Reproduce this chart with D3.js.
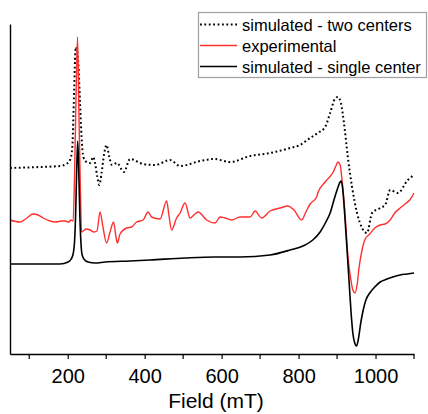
<!DOCTYPE html>
<html>
<head>
<meta charset="utf-8">
<title>EPR spectra</title>
<script src="https://d3js.org/d3.v7.min.js"></script>
<style>
    body { margin: 0; background: #fff; }
    svg { display: block; font-family: "Liberation Sans", Arial, sans-serif; }
</style>
</head>
<body>
<div id="chart"></div>
<script>

// field (mT) and intensity (a.u.)
var twoField = [50, 128, 180, 196, 206, 212, 214.5, 217, 219, 221.5, 224, 227.5, 232, 236, 240.5, 249, 258, 266.5, 271, 277, 282, 288, 295, 301, 308, 315, 328, 346, 362, 396, 427, 466, 492, 544, 580, 622, 674, 726, 778, 804, 830, 850, 869, 882, 895, 902, 910, 918, 928, 939, 952, 965, 978, 991, 1012, 1025, 1038, 1058, 1084, 1100];
var twoInt = [0.96, 0.97, 0.98, 1.00, 1.04, 1.17, 1.44, 1.77, 2.04, 2.17, 2.14, 2.01, 1.61, 1.27, 1.07, 1.02, 1.01, 1.07, 1.01, 0.87, 0.79, 0.91, 1.11, 1.19, 1.07, 0.99, 1.01, 0.92, 1.05, 1.00, 0.99, 1.04, 0.98, 1.03, 1.05, 1.02, 1.08, 1.11, 1.16, 1.19, 1.26, 1.31, 1.37, 1.51, 1.655, 1.67, 1.61, 1.41, 1.07, 0.77, 0.51, 0.36, 0.31, 0.51, 0.56, 0.59, 0.74, 0.71, 0.84, 0.89];

var expField = [50, 76, 94, 110, 123, 136, 154, 167, 185, 193, 203, 208, 214, 217.5, 221.5, 225.5, 229, 233, 236, 240, 248, 258, 268, 276, 284, 292, 301, 310, 319, 326, 329, 336, 353, 366, 379, 396, 409, 418, 440, 457, 463, 470, 483, 492, 505, 518, 528, 539, 561, 583, 596, 609, 626, 648, 674, 687, 704, 726, 752, 772, 788, 808, 819, 830, 847, 850, 869, 890, 897, 902, 908, 913, 921, 928, 936, 941, 947, 952, 957, 965, 972, 985, 998, 1012, 1025, 1038, 1050, 1064, 1077, 1089, 1100];
var expInt = [0.44, 0.42, 0.46, 0.50, 0.49, 0.46, 0.43, 0.42, 0.43, 0.43, 0.42, 0.44, 0.43, 0.84, 1.64, 2.27, 1.54, 0.74, 0.32, 0.33, 0.35, 0.34, 0.32, 0.33, 0.52, 0.36, 0.21, 0.32, 0.42, 0.26, 0.21, 0.30, 0.36, 0.37, 0.42, 0.44, 0.52, 0.47, 0.45, 0.63, 0.49, 0.34, 0.46, 0.51, 0.61, 0.46, 0.49, 0.52, 0.44, 0.41, 0.47, 0.46, 0.44, 0.47, 0.47, 0.53, 0.46, 0.53, 0.56, 0.58, 0.54, 0.44, 0.52, 0.60, 0.67, 0.71, 0.82, 0.92, 0.98, 1.02, 0.99, 0.84, 0.49, 0.09, -0.16, -0.26, -0.29, -0.21, -0.04, 0.14, 0.24, 0.30, 0.36, 0.39, 0.40, 0.44, 0.51, 0.56, 0.60, 0.64, 0.71];

var oneField = [50, 180, 201, 209, 214, 218, 220.5, 223, 226, 229, 231.5, 234, 237, 242, 253, 271, 297, 362, 414, 505, 583, 648, 726, 778, 817, 837, 856, 871, 882, 892, 900, 908, 911, 915, 920, 926, 931, 936, 941, 946, 951, 955, 962, 968, 975, 985, 998, 1012, 1030, 1045, 1064, 1082, 1100];
var oneInt = [0.00, 0.00, 0.02, 0.05, 0.10, 0.24, 0.49, 0.89, 1.23, 0.89, 0.49, 0.24, 0.10, 0.05, 0.02, 0.01, 0.02, 0.03, 0.04, 0.06, 0.07, 0.07, 0.09, 0.14, 0.19, 0.24, 0.32, 0.42, 0.51, 0.64, 0.74, 0.82, 0.83, 0.74, 0.49, 0.14, -0.16, -0.46, -0.69, -0.79, -0.82, -0.76, -0.58, -0.46, -0.36, -0.29, -0.23, -0.18, -0.15, -0.13, -0.11, -0.10, -0.09];

var majorTicks = [200, 400, 600, 800, 1000];
var minorTicks = [100, 300, 500, 700, 900, 1100];
var legendLabels = ["simulated - two centers", "experimental", "simulated - single center"];

var W = 428, H = 414;
var margin = { top: 24, right: 14, bottom: 60, left: 10 };

var svg = d3.select("#chart").append("svg")
    .attr("width", W)
    .attr("height", H);

var x = d3.scaleLinear().domain([50, 1100]).range([margin.left, W - margin.right]);
var y = d3.scaleLinear().domain([-0.9, 2.4]).range([H - margin.bottom, margin.top]);

function zip(xs, ys) {
    return xs.map(function (d, i) { return [d, ys[i]]; });
}

var line = d3.line()
    .x(function (d) { return x(d[0]); })
    .y(function (d) { return y(d[1]); })
    .curve(d3.curveMonotoneX);

// traces
var series = [
    { data: zip(twoField, twoInt), color: "#000", width: 2, dash: "1.8,2.6" },
    { data: zip(expField, expInt), color: "#ff3030", width: 1.4, dash: null },
    { data: zip(oneField, oneInt), color: "#000", width: 1.6, dash: null }
];

series.forEach(function (s) {
    svg.append("path")
        .datum(s.data)
        .attr("fill", "none")
        .attr("stroke", s.color)
        .attr("stroke-width", s.width)
        .attr("stroke-dasharray", s.dash)
        .attr("stroke-linejoin", "round")
        .attr("d", line);
});

// bottom axis: major ticks with labels, minor ticks without
var xAxis = svg.append("g")
    .attr("transform", "translate(0," + y.range()[0] + ")")
    .call(d3.axisBottom(x).tickValues(majorTicks).tickFormat(d3.format("d"))
        .tickSize(5).tickSizeOuter(0).tickPadding(10));
xAxis.select(".domain").attr("stroke-width", 1.4);
xAxis.selectAll(".tick line").attr("stroke-width", 1.2);
xAxis.selectAll(".tick text")
    .style("font-size", "20px")
    .attr("fill", "#000")
    .attr("font-family", "'Liberation Sans', Arial, sans-serif");

svg.append("g")
    .attr("transform", "translate(0," + y.range()[0] + ")")
    .selectAll("line")
    .data(minorTicks)
    .enter().append("line")
    .attr("x1", function (d) { return x(d); })
    .attr("x2", function (d) { return x(d); })
    .attr("y1", 0)
    .attr("y2", 5)
    .attr("stroke", "#000")
    .attr("stroke-width", 1.2);

// left axis: plain line only
var yAxis = svg.append("g")
    .attr("transform", "translate(" + margin.left + ",0)")
    .call(d3.axisLeft(y).tickValues([]).tickSizeOuter(0));
yAxis.select(".domain").attr("stroke-width", 1.4);

svg.append("text")
    .attr("x", 216)
    .attr("y", 408)
    .attr("text-anchor", "middle")
    .style("font-size", "21px")
    .text("Field (mT)");

// legend
var legend = svg.append("g");
legend.append("rect")
    .attr("x", 198.5)
    .attr("y", 12.5)
    .attr("width", 228)
    .attr("height", 65)
    .attr("fill", "#fff")
    .attr("stroke", "#a0a0a0")
    .attr("stroke-width", 1.2);

var rows = legend.selectAll(".row")
    .data(series)
    .enter().append("g")
    .attr("class", "row")
    .attr("transform", function (d, i) { return "translate(0," + (24.5 + i * 21) + ")"; });

rows.append("line")
    .attr("x1", 200)
    .attr("x2", 237)
    .attr("stroke", function (d) { return d.color; })
    .attr("stroke-width", function (d) { return d.width; })
    .attr("stroke-dasharray", function (d) { return d.dash; });

rows.append("text")
    .attr("x", 242)
    .attr("y", 6)
    .style("font-size", "16.5px")
    .text(function (d, i) { return legendLabels[i]; });

</script>
</body>
</html>
